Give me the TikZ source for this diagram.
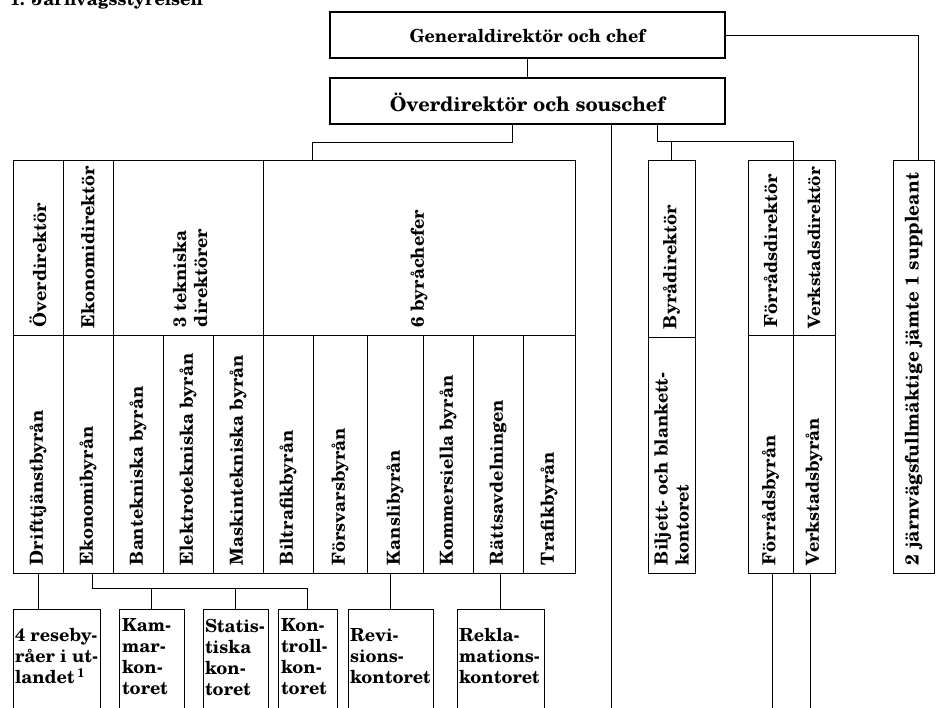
\documentclass[tikz,border=0pt]{standalone}
\usepackage{fontspec}
\setmainfont{texgyreschola}[Extension=.otf, UprightFont=*-regular, BoldFont=*-bold, ItalicFont=*-italic, BoldItalicFont=*-bolditalic]
\newcommand{\rbox}[6][]{%
  \node[draw, inner sep=0pt, outer sep=0pt, anchor=north west,
        minimum width={(#4-#2)*1pt}, minimum height={(#5-#3)*1pt}, #1] (#6) at (#2,#3) {};}
\begin{document}
\begin{tikzpicture}[x=1pt,y=-1pt, line width=0.9pt,
  lbl/.style={font=\bfseries\fontsize{18}{21}\selectfont, inner sep=0pt, outer sep=0pt},
  vlbl/.style={lbl, rotate=90, anchor=west},
  thickbox/.style={line width=2.2pt},
  conn/.style={line width=0.9pt}]
\useasboundingbox (0,0) rectangle (936,708);
\clip (0,0) rectangle (936,708);
\fill[white] (0,0) rectangle (936,708);

% title
\node[lbl, anchor=base west] (title) at (10,6) {1. Järnvägsstyrelsen};

% top boxes
\rbox[thickbox]{330}{12}{725}{58}{gd}
\rbox[thickbox]{330}{78}{725}{124}{od}
\node[lbl, font=\bfseries\fontsize{18}{21}\selectfont] (t-gd) at ([yshift=-1pt]gd) {Generaldirektör och chef};
\node[lbl, font=\bfseries\fontsize{20}{23}\selectfont] (t-od) at ([yshift=-1pt]od) {Överdirektör och souschef};

% right box
\rbox{893}{160}{934}{573}{fm}
\node[vlbl, font=\bfseries\fontsize{18.8}{21}\selectfont] (t-fm) at ([yshift=8pt]fm.south) {2 järnvägsfullmäktige jämte 1 suppleant};

% main table frame
\rbox{13}{160}{575}{573}{tab}
% upper cells
\rbox{13}{160}{63}{335}{u1}
\rbox{63}{160}{113}{335}{u2}
\rbox{113}{160}{263}{335}{u3}
\rbox{263}{160}{575}{335}{u4}
\node[vlbl] (t-u1) at ([yshift=8pt]u1.south) {Överdirektör};
\node[vlbl] (t-u2) at ([yshift=7pt]u2.south) {Ekonomidirektör};
\node[vlbl, align=left] (t-u3) at ([yshift=8pt, xshift=2pt]u3.south) {3 tekniska\\direktörer};
\node[vlbl] (t-u4) at ([yshift=8pt]u4.south) {6 byråchefer};
% lower cells
\rbox{13}{335}{63}{573}{c1}
\rbox{63}{335}{113}{573}{c2}
\rbox{113}{335}{163}{573}{c3}
\rbox{163}{335}{213}{573}{c4}
\rbox{213}{335}{263}{573}{c5}
\rbox{263}{335}{313}{573}{c6}
\rbox{313}{335}{367}{573}{c7}
\rbox{367}{335}{423}{573}{c8}
\rbox{423}{335}{473}{573}{c9}
\rbox{473}{335}{523}{573}{c10}
\rbox{523}{335}{575}{573}{c11}
\node[vlbl] (t-c1) at ([yshift=8pt]c1.south) {Drifttjänstbyrån};
\node[vlbl] (t-c2) at ([yshift=8pt]c2.south) {Ekonomibyrån};
\node[vlbl] (t-c3) at ([yshift=8pt]c3.south) {Bantekniska byrån};
\node[vlbl] (t-c4) at ([yshift=8pt]c4.south) {Elektrotekniska byrån};
\node[vlbl] (t-c5) at ([yshift=8pt]c5.south) {Maskintekniska byrån};
\node[vlbl] (t-c6) at ([yshift=8pt]c6.south) {Biltrafikbyrån};
\node[vlbl] (t-c7) at ([yshift=8pt]c7.south) {Försvarsbyrån};
\node[vlbl] (t-c8) at ([yshift=8pt]c8.south) {Kanslibyrån};
\node[vlbl] (t-c9) at ([yshift=8pt]c9.south) {Kommersiella byrån};
\node[vlbl] (t-c10) at ([yshift=8pt]c10.south) {Rättsavdelningen};
\node[vlbl] (t-c11) at ([yshift=8pt]c11.south) {Trafikbyrån};

% Biljett box
\rbox{648}{160}{695}{337}{bil1}
\rbox{648}{337}{695}{573}{bil2}
\node[vlbl] (t-bil1) at ([yshift=8pt]bil1.south) {Byrådirektör};
\node[vlbl, align=left] (t-bil2) at ([yshift=8pt]bil2.south) {Biljett- och blankett-\\kontoret};

% Förråd / Verkstad box
\rbox{748}{160}{793}{335}{fd}
\rbox{793}{160}{835}{335}{vd}
\rbox{748}{335}{793}{573}{fb}
\rbox{793}{335}{835}{573}{vb}
\node[vlbl] (t-fd) at ([yshift=8pt]fd.south) {Förrådsdirektör};
\node[vlbl, font=\bfseries\fontsize{17}{21}\selectfont] (t-vd) at ([yshift=7pt]vd.south) {Verkstadsdirektör};
\node[vlbl] (t-fb) at ([yshift=8pt]fb.south) {Förrådsbyrån};
\node[vlbl] (t-vb) at ([yshift=8pt]vb.south) {Verkstadsbyrån};

% bottom boxes
\rbox{13}{609}{100}{740}{res}
\rbox{119}{609}{184}{740}{kam}
\rbox{203}{609}{268}{740}{sta}
\rbox{278}{609}{337}{740}{kon}
\rbox{348}{609}{433}{740}{rev}
\rbox{457}{609}{544}{740}{rek}
\node[lbl, align=left, anchor=west, xshift=2pt] (t-res) at (res.west |- 0,656) {4 reseby-\\råer i ut-\\landet\,\textsuperscript{1}};
\node[lbl, align=left, anchor=west, xshift=3pt] (t-kam) at (kam.west |- 0,657) {Kam-\\mar-\\kon-\\toret};
\node[lbl, align=left, anchor=west, xshift=2pt] (t-sta) at (sta.west |- 0,657) {Statis-\\tiska\\kon-\\toret};
\node[lbl, align=left, anchor=west, xshift=3pt] (t-kon) at (kon.west |- 0,657) {Kon-\\troll-\\kon-\\toret};
\node[lbl, align=left, anchor=west, xshift=2pt] (t-rev) at (rev.west |- 0,656) {Revi-\\sions-\\kontoret};
\node[lbl, align=left, anchor=west, xshift=2pt] (t-rek) at (rek.west |- 0,656) {Rekla-\\mations-\\kontoret};

% connectors at top
\draw[conn] (gd.south) -- (od.north);
\draw[conn] (gd.east) -| ([xshift=4.5pt]fm.north);
\coordinate (j1) at (312,142);
\draw[conn] ([xshift=-15.5pt]od.south) |- (j1) -- (j1 |- tab.north);
\coordinate (e1) at (611,740);
\draw[conn] (e1 |- od.south) -- (e1);
\coordinate (j2) at (657,141);
\draw[conn] ([xshift=129.5pt]od.south) -- (j2) -| (vd.north west);
\draw[conn] (j2 -| bil1.north) -- (bil1.north);

% lines below Förråd / Verkstad
\coordinate (e2) at (772,740);
\coordinate (e3) at (810,740);
\draw[conn] (e2 |- fb.south) -- (e2);
\draw[conn] (e3 |- vb.south) -- (e3);

% connectors at bottom
\draw[conn] (c1.south) -- (c1.south |- res.north);
\coordinate (ekoj) at (92,588);
\draw[conn] ([xshift=4pt]c2.south) -- (ekoj) -- (ekoj -| kon.north) -- (kon.north);
\draw[conn] (ekoj -| kam.north) -- (kam.north);
\draw[conn] (ekoj -| sta.north) -- (sta.north);
\draw[conn] (rev.north |- c8.south) -- (rev.north);
\draw[conn] (rek.north |- c10.south) -- (rek.north);
\end{tikzpicture}
\end{document}
